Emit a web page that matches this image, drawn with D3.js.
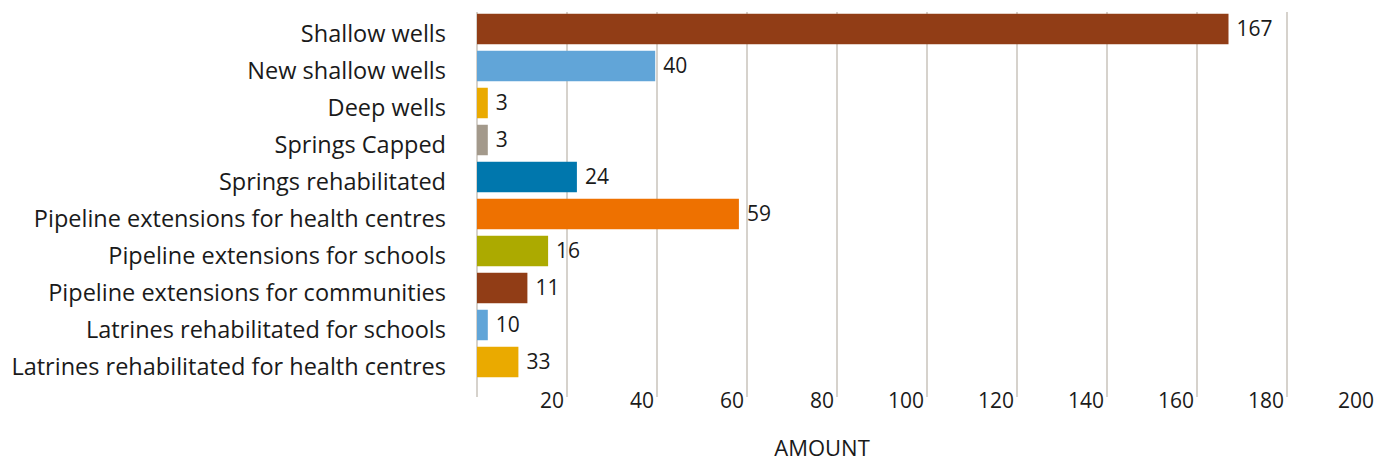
<!DOCTYPE html>
<html>
<head>
<meta charset="utf-8">
<script src="https://cdn.jsdelivr.net/npm/d3@7"></script>
<style>
  body { margin: 0; background: #fff; }
  svg { display: block; font-family: "Open Sans", sans-serif; }
</style>
</head>
<body>
<script>
// categories, top to bottom
const categories = [
    'Shallow wells',
    'New shallow wells',
    'Deep wells',
    'Springs Capped',
    'Springs rehabilitated',
    'Pipeline extensions for health centres',
    'Pipeline extensions for schools',
    'Pipeline extensions for communities',
    'Latrines rehabilitated for schools',
    'Latrines rehabilitated for health centres',
]
// printed value labels
const labels = [167, 40, 3, 3, 24, 59, 16, 11, 10, 33]
// bar lengths as drawn against the axis (they don't always agree with the labels)
const barValues = [167, 39.6, 2.4, 2.4, 22.2, 58.2, 15.8, 11.2, 2.4, 9.2]
const colors = ['#913d16', '#61a5d8', '#eaaa00', '#a3998b', '#0077ad', '#ee7100', '#acaa00', '#913d16', '#61a5d8', '#eaaa00']
const ticks = [20, 40, 60, 80, 100, 120, 140, 160, 180, 200]
const gridValues = [0, 20, 40, 60, 80, 100, 120, 140, 160, 180]

const width = 1376, height = 462

const svg = d3.select('body').append('svg')
    .attr('width', width)
    .attr('height', height)

const x = d3.scaleLinear().domain([0, 200]).range([477, 1377])
const y = d3.scaleBand().domain(categories).range([10.5, 380.5]).paddingInner(0.176).paddingOuter(0.088)

// gridlines
svg.append('g')
    .selectAll('line')
    .data(gridValues)
    .join('line')
    .attr('x1', d => x(d)).attr('x2', d => x(d))
    .attr('y1', 12).attr('y2', 397)
    .attr('stroke', '#d6d2cc')
    .attr('stroke-width', 2)

// tick labels sit just left of their gridline
svg.append('g')
    .attr('font-size', 21)
    .attr('fill', '#1a1a1a')
    .attr('text-anchor', 'end')
    .selectAll('text')
    .data(ticks)
    .join('text')
    .attr('x', d => x(d) - 3)
    .attr('y', 408)
    .text(d => d)

const rows = categories.map((c, i) => ({cat: c, v: barValues[i], label: labels[i], color: colors[i]}))

svg.append('g')
    .selectAll('rect')
    .data(rows)
    .join('rect')
    .attr('x', x(0))
    .attr('y', d => y(d.cat))
    .attr('width', d => x(d.v) - x(0))
    .attr('height', y.bandwidth())
    .attr('fill', d => d.color)

svg.append('g')
    .attr('font-size', 21)
    .attr('fill', '#1a1a1a')
    .selectAll('text')
    .data(rows)
    .join('text')
    .attr('x', d => x(d.v) + 8)
    .attr('y', d => y(d.cat) + y.bandwidth() / 2)
    .attr('dy', '0.35em')
    .text(d => d.label)

// category labels
svg.append('g')
    .attr('font-size', 23.5)
    .attr('fill', '#1a1a1a')
    .attr('text-anchor', 'end')
    .selectAll('text')
    .data(categories)
    .join('text')
    .attr('x', 446)
    .attr('y', d => y(d) + y.bandwidth() / 2 + 5)
    .attr('dy', '0.35em')
    .text(d => d)

svg.append('text')
    .attr('x', 822)
    .attr('y', 456)
    .attr('text-anchor', 'middle')
    .attr('font-size', 22)
    .attr('fill', '#1a1a1a')
    .text('AMOUNT')
</script>
</body>
</html>
